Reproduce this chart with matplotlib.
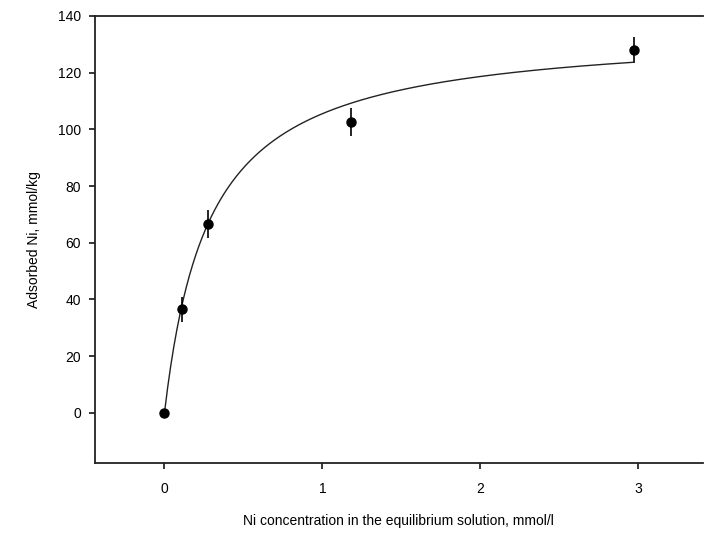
import numpy as np
import matplotlib
matplotlib.use('Agg')
import matplotlib.pyplot as plt

plt.rcParams['font.family'] = ['Liberation Sans', 'DejaVu Sans']

# measured points
conc = [0.0, 0.113, 0.276, 1.18, 2.977]
adsorbed = [0.0, 36.5, 66.5, 102.5, 128.0]
err = [0.0, 4.5, 5.0, 5.0, 4.5]

# Langmuir fit parameters
q_max = 135.5
k_l = 3.52

fig = plt.figure(figsize=(7.2, 5.42), dpi=100)
ax = fig.add_axes([0.132, 0.1463, 0.844, 0.8242])

c_fit = np.linspace(0, 2.965, 300)
q_fit = q_max * k_l * c_fit / (1 + k_l * c_fit)
ax.plot(c_fit, q_fit, color='#222222', lw=1.0, zorder=2)

ax.errorbar(conc, adsorbed, yerr=err, fmt='o', color='black', ms=6.5,
            elinewidth=1.2, capsize=0, zorder=3)

ax.set_xlim(-0.44, 3.41)
ax.set_ylim(-17.6, 140)
ax.set_xticks([0, 1, 2, 3])
ax.set_yticks(range(0, 141, 20))

ax.spines['right'].set_visible(False)
for s in ['left', 'top', 'bottom']:
    ax.spines[s].set_linewidth(1.3)
    ax.spines[s].set_color('#222222')
ax.tick_params(direction='out', length=4, width=1.1, labelsize=10, pad=10)
ax.tick_params(axis='y', pad=6)

ax.set_xlabel('Ni concentration in the equilibrium solution, mmol/l', fontsize=10, labelpad=13)
ax.set_ylabel('Adsorbed Ni, mmol/kg', fontsize=10, labelpad=12)

fig.savefig('out.png', dpi=100)
